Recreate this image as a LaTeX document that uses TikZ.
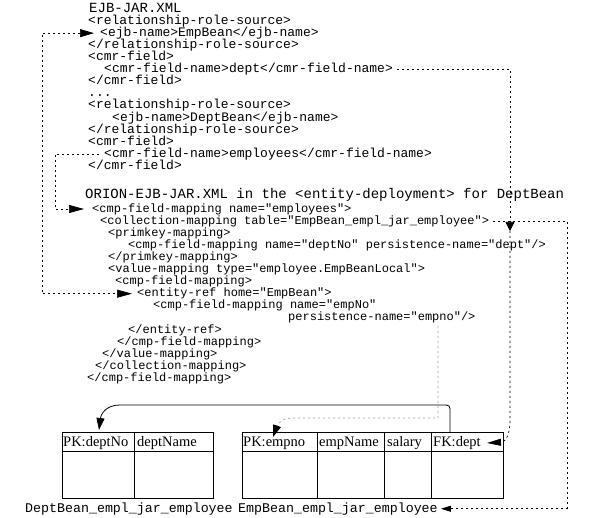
\documentclass[tikz,border=0pt]{standalone}
\usepackage{fontspec}
\newfontfamily\codefont{Liberation Mono}
\newfontfamily\tabfont{Liberation Serif}
\usetikzlibrary{arrows.meta}
\begin{document}
\begin{tikzpicture}[x=1pt,y=-1pt,
  codeA/.style={anchor=base west, inner sep=0pt, text height=9pt, text depth=2.5pt, font=\codefont\fontsize{13pt}{13pt}\selectfont},
  codeB/.style={anchor=base west, inner sep=0pt, text height=8.5pt, text depth=2.3pt, font=\codefont\fontsize{12pt}{12pt}\selectfont},
  ttl/.style={anchor=base west, inner sep=0pt, font=\codefont\fontsize{14pt}{14pt}\selectfont},
  lab/.style={anchor=base west, inner sep=0pt, text height=9pt, text depth=2.5pt, font=\codefont\fontsize{13.3pt}{13.3pt}\selectfont},
  hdr/.style={anchor=base west, inner sep=0pt, font=\tabfont\fontsize{14.5pt}{14.5pt}\selectfont},
  conn/.style={line width=0.7pt, dash pattern=on 2pt off 3pt},
  grayconn/.style={conn, draw=gray!75},
  solidconn/.style={line width=0.8pt},
  tbl/.style={line width=0.8pt}
]
\useasboundingbox (0,0) rectangle (605,518);

% ---- EJB-JAR.XML block
\node[ttl] (t1) at (89,12.6) {EJB-JAR.XML};
\node[codeA] (b1l1) at (88,24.3) {<relationship-role-source>};
\node[codeA] (b1l2) at (100,36.4) {<ejb-name>EmpBean</ejb-name>};
\node[codeA] (b1l3) at (88,48.5) {</relationship-role-source>};
\node[codeA] (b1l4) at (88,60.6) {<cmr-field>};
\node[codeA] (b1l5) at (104,72.7) {<cmr-field-name>dept</cmr-field-name>};
\node[codeA] (b1l6) at (88,84.8) {</cmr-field>};
\node[codeA] (b1l7) at (88,96.9) {...};
\node[codeA] (b1l8) at (88,109) {<relationship-role-source>};
\node[codeA] (b1l9) at (112,121.1) {<ejb-name>DeptBean</ejb-name>};
\node[codeA] (b1l10) at (88,133.2) {</relationship-role-source>};
\node[codeA] (b1l11) at (88,145.3) {<cmr-field>};
\node[codeA] (b1l12) at (104,157.4) {<cmr-field-name>employees</cmr-field-name>};
\node[codeA] (b1l13) at (88,169.5) {</cmr-field>};

% ---- ORION block
\node[ttl] (t2) at (85,198.6) {ORION-EJB-JAR.XML in the <entity-deployment> for DeptBean};
\node[codeB] (b2l0) at (92,212.1) {<cmp-field-mapping name="employees">};
\node[codeB] (b2l1) at (100,224.2) {<collection-mapping table="EmpBean\_empl\_jar\_employee">};
\node[codeB] (b2l2) at (108,236.3) {<primkey-mapping>};
\node[codeB] (b2l3) at (128,248.4) {<cmp-field-mapping name="deptNo" persistence-name="dept"/>};
\node[codeB] (b2l4) at (108,260.5) {</primkey-mapping>};
\node[codeB] (b2l5) at (108,272.6) {<value-mapping type="employee.EmpBeanLocal">};
\node[codeB] (b2l6) at (115,284.7) {<cmp-field-mapping>};
\node[codeB] (b2l7) at (137,296.8) {<entity-ref home="EmpBean">};
\node[codeB] (b2l8) at (153,308.9) {<cmp-field-mapping name="empNo"};
\node[codeB] (b2l9) at (288,321) {persistence-name="empno"/>};
\node[codeB] (b2l10) at (128,333.1) {</entity-ref>};
\node[codeB] (b2l11) at (117,345.2) {</cmp-field-mapping>};
\node[codeB] (b2l12) at (102,357.3) {</value-mapping>};
\node[codeB] (b2l13) at (95,369.4) {</collection-mapping>};
\node[codeB] (b2l14) at (87,381.5) {</cmp-field-mapping>};

% ---- tables
\draw[tbl] (62,432) rectangle (213,498);
\draw[tbl] (62,451) -- (213,451);
\draw[tbl] (134,432) -- (134,498);
\node[hdr] (h11) at (63,446) {PK:deptNo};
\node[hdr] (h12) at (137,446) {deptName};

\draw[tbl] (242,432) rectangle (503,498);
\draw[tbl] (242,451) -- (503,451);
\draw[tbl] (317,432) -- (317,498);
\draw[tbl] (384,432) -- (384,498);
\draw[tbl] (431,432) -- (431,498);
\node[hdr] (h21) at (243,446) {PK:empno};
\node[hdr] (h22) at (319,446) {empName};
\node[hdr] (h23) at (387,446) {salary};
\node[hdr] (h24) at (433,446) {FK:dept};

\node[lab] (lab1) at (25,512) {DeptBean\_empl\_jar\_employee};
\node[lab] (lab2) at (238,512) {EmpBean\_empl\_jar\_employee};

% ---- helper coordinates
\coordinate (L1) at (42,0);
\coordinate (L2) at (55,0);
\coordinate (R1) at (510,0);
\coordinate (R2) at (567,0);
\coordinate (dtip) at (510,231);
\coordinate (fktip) at (487,443);
\coordinate (empnoTop) at (438,326);
\coordinate (H5) at (0,418);
\coordinate (pkEmpTip) at (273,437);
\coordinate (fkTop) at (450,432);
\coordinate (pkDeptTip) at (99,430);

% ---- connectors
\draw[conn, {Triangle[length=14pt,width=8pt]}-{Triangle[length=15pt,width=8pt]}]
  ([xshift=-6pt]b1l2.west) -- (b1l2.west -| L1) -- (b2l7.west -| L1) -- ([xshift=-5pt]b2l7.west);
\draw[conn, -{Triangle[length=15pt,width=8pt]}]
  ([xshift=-5pt]b1l12.west) -- (b1l12.west -| L2) -- (b2l0.west -| L2) -- ([xshift=-8pt]b2l0.west);
\draw[conn, -{Triangle[length=9pt,width=9pt]}]
  ([xshift=4pt]b1l5.east) -- (b1l5.east -| R1) -- (dtip);
\draw[conn, -{Triangle[length=14pt,width=7pt]}]
  (dtip) -- (510,421) .. controls (510,434) and (506,442) .. (fktip);
\draw[conn, -{Triangle[length=10pt,width=6pt]}]
  ([xshift=4pt]b2l1.east) -- (b2l1.east -| R2) -- (R2 |- lab2.west) -- ([xshift=3pt]lab2.east);
\draw[grayconn, -{Triangle[length=12pt,width=8pt,color=black]}]
  (empnoTop) -- (empnoTop |- H5) -- (292,418) .. controls (281,418) and (277,426) .. (pkEmpTip);
\draw[solidconn, -{Triangle[length=12pt,width=8pt]}]
  (fkTop) -- (450,413) .. controls (450,405) .. (442,405) -- (120,405)
  .. controls (106,405) and (101,414) .. (pkDeptTip);
\end{tikzpicture}
\end{document}
